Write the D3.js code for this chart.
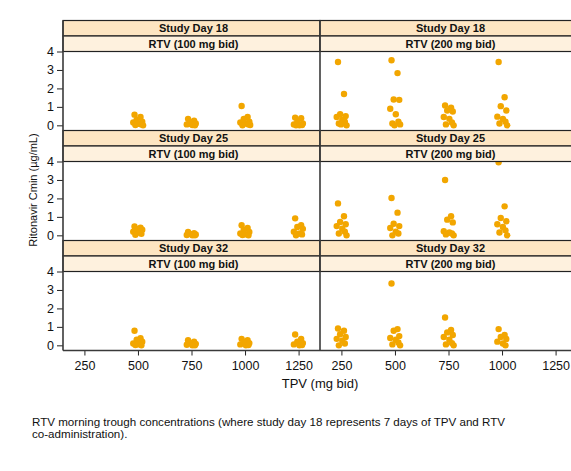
<!DOCTYPE html>
<html>
<head>
<meta charset="utf-8">
<script src="https://cdn.jsdelivr.net/npm/d3@7"></script>
<style>
  body { margin: 0; background: #fff; }
  text { font-family: "Liberation Sans", Arial, sans-serif; }
</style>
</head>
<body>
<svg id="chart"></svg>
<script>
const W = 571, H = 471;
const margin = { top: 20.5, left: 63 };
const panelW = 257;
const stripH = 15.5;
const panelH = 79;
const rowH = 2 * stripH + panelH;

const studyDays = ["Study Day 18", "Study Day 25", "Study Day 32"];
const regimens = ["RTV (100 mg bid)", "RTV (200 mg bid)"];
const doseTicks = [250, 500, 750, 1000, 1250];
const yTicks = [0, 1, 2, 3, 4];
// fixed jitter pattern (mg units) used to spread points at each dose
const jitter = [-16, 12, -6, 20, -22, 4, 16, -12, 24, -2];

// ritonavir Cmin (ug/mL) by TPV dose
const d18_100 = [
  [500, [0.58, 0.45, 0.3, 0.2, 0.15, 0.1, 0.05, 0.02, 0.0, 0.08]],
  [750, [0.35, 0.25, 0.15, 0.1, 0.05, 0.02, 0.0, 0.08]],
  [1000, [1.05, 0.45, 0.35, 0.2, 0.15, 0.1, 0.05, 0.0, 0.02]],
  [1250, [0.42, 0.38, 0.2, 0.1, 0.05, 0.0, 0.02, 0.0]]
];
const d18_200 = [
  [250, [3.43, 1.7, 0.6, 0.5, 0.45, 0.3, 0.2, 0.1, 0.0, 0.05]],
  [500, [3.53, 2.83, 1.4, 1.38, 0.9, 0.6, 0.2, 0.1, 0.05, 0.0]],
  [750, [1.08, 0.95, 0.8, 0.75, 0.45, 0.35, 0.15, 0.05, 0.0]],
  [1000, [3.43, 1.52, 1.04, 0.8, 0.47, 0.35, 0.2, 0.1, 0.0]]
];
const d25_100 = [
  [500, [0.48, 0.42, 0.35, 0.3, 0.2, 0.15, 0.08, 0.03]],
  [750, [0.18, 0.12, 0.08, 0.05, 0.02, 0.0, 0.0]],
  [1000, [0.55, 0.4, 0.3, 0.18, 0.1, 0.05, 0.0, 0.02]],
  [1250, [0.92, 0.55, 0.45, 0.35, 0.2, 0.1, 0.05, 0.0]]
];
const d25_200 = [
  [250, [1.73, 1.03, 0.72, 0.6, 0.5, 0.36, 0.2, 0.1, 0.0]],
  [500, [2.02, 1.23, 0.63, 0.5, 0.4, 0.2, 0.1, 0.0]],
  [750, [3.0, 1.03, 0.85, 0.7, 0.22, 0.15, 0.1, 0.05, 0.0]],
  [1000, [3.96, 1.57, 0.94, 0.76, 0.6, 0.45, 0.27, 0.15, 0.0]]
];
const d32_100 = [
  [500, [0.79, 0.38, 0.3, 0.2, 0.1, 0.05, 0.0, 0.02]],
  [750, [0.28, 0.2, 0.12, 0.08, 0.03, 0.0, 0.0]],
  [1000, [0.35, 0.28, 0.2, 0.12, 0.05, 0.0, 0.02]],
  [1250, [0.59, 0.35, 0.2, 0.12, 0.05, 0.0, 0.02]]
];
const d32_200 = [
  [250, [0.91, 0.79, 0.6, 0.45, 0.35, 0.25, 0.1, 0.0]],
  [500, [3.35, 0.88, 0.79, 0.5, 0.4, 0.3, 0.15, 0.05, 0.0]],
  [750, [1.51, 0.83, 0.7, 0.56, 0.45, 0.3, 0.12, 0.05, 0.0]],
  [1000, [0.88, 0.56, 0.45, 0.34, 0.2, 0.1, 0.0]]
];
const panels = [[d18_100, d18_200], [d25_100, d25_200], [d32_100, d32_200]];

const captionLines = [
  "RTV morning trough concentrations (where study day 18 represents 7 days of TPV and RTV",
  "co-administration)."
];

function init() {
  const svg = d3.select("#chart").attr("width", W).attr("height", H);

  const x = d3.scaleLinear().domain([150, 1350]).range([0, panelW]);
  const y = d3.scaleLinear().domain([-0.28, 4]).range([panelH, 0]);

  studyDays.forEach((day, r) => {
    const rowTop = margin.top + r * rowH;
    regimens.forEach((reg, c) => {
      const g = svg.append("g")
        .attr("transform", `translate(${margin.left + c * panelW}, ${rowTop})`);
      drawPanel(g, panels[r][c], x, y, `clip${r}${c}`);
      drawStrip(g, 0, day, "#fde5c2");
      drawStrip(g, stripH, reg, "#fef1de");
    });

    // y axis on the left
    const ya = svg.append("g")
      .attr("transform", `translate(${margin.left}, ${rowTop + 2 * stripH})`)
      .call(d3.axisLeft(y).tickValues(yTicks).tickFormat(d3.format("d")).tickSize(6).tickPadding(3));
    ya.select(".domain").remove();
    ya.selectAll(".tick line").attr("stroke", "#222");
    ya.selectAll(".tick text").attr("font-size", 12.5).attr("fill", "#111")
      .style("font-family", "Liberation Sans, Arial, sans-serif");
  });

  const gridBottom = margin.top + 3 * rowH;

  // bottom axes
  [0, 1].forEach((c) => {
    const xa = svg.append("g")
      .attr("transform", `translate(${margin.left + c * panelW}, ${gridBottom})`)
      .call(d3.axisBottom(x).tickValues(doseTicks).tickFormat(d3.format("d")).tickSize(5).tickPadding(6));
    xa.select(".domain").remove();
    xa.selectAll(".tick line").attr("stroke", "#222");
    xa.selectAll(".tick text").attr("font-size", 12.5).attr("fill", "#111")
      .style("font-family", "Liberation Sans, Arial, sans-serif");
  });

  // frame lines
  const frame = "#3a3a3a";
  svg.append("line")
    .attr("x1", margin.left).attr("x2", margin.left)
    .attr("y1", margin.top).attr("y2", gridBottom)
    .attr("stroke", frame).attr("stroke-width", 1.6);
  svg.append("line")
    .attr("x1", margin.left + panelW).attr("x2", margin.left + panelW)
    .attr("y1", margin.top).attr("y2", gridBottom)
    .attr("stroke", frame).attr("stroke-width", 1.6);
  svg.append("line")
    .attr("x1", margin.left).attr("x2", margin.left + 2 * panelW)
    .attr("y1", gridBottom).attr("y2", gridBottom)
    .attr("stroke", frame).attr("stroke-width", 1.6);

  // axis titles
  svg.append("text")
    .attr("x", margin.left + panelW).attr("y", 388)
    .attr("text-anchor", "middle").attr("font-size", 13).attr("fill", "#111")
    .text("TPV (mg bid)");
  svg.append("text")
    .attr("transform", `translate(37, 190) rotate(-90)`)
    .attr("text-anchor", "middle").attr("font-size", 11).attr("fill", "#111")
    .text("Ritonavir Cmin (µg/mL)");

  // caption
  svg.append("g").selectAll("text")
    .data(captionLines)
    .join("text")
    .attr("x", 32)
    .attr("y", (d, i) => 426 + i * 12)
    .attr("font-size", 11.6).attr("fill", "#111")
    .text((d) => d);
}

function drawStrip(g, top, label, fill) {
  g.append("rect")
    .attr("x", 0).attr("y", top)
    .attr("width", panelW).attr("height", stripH)
    .attr("fill", fill).attr("stroke", "#222").attr("stroke-width", 1.2);
  g.append("text")
    .attr("x", panelW / 2 + 2).attr("y", top + stripH / 2 + 4)
    .attr("text-anchor", "middle")
    .attr("font-size", 11).attr("font-weight", "bold").attr("fill", "#111")
    .text(label);
}

function drawPanel(g, groups, x, y, clipId) {
  const top = 2 * stripH;
  g.append("clipPath").attr("id", clipId)
    .append("rect").attr("x", 0).attr("y", 0).attr("width", panelW).attr("height", panelH);
  g.append("rect")
    .attr("x", 0).attr("y", top).attr("width", panelW).attr("height", panelH)
    .attr("fill", "#fff");

  const pts = [];
  groups.forEach(([dose, vals]) => {
    vals.forEach((v, i) => pts.push({ dose: dose + jitter[i % jitter.length], v: v }));
  });

  g.append("g")
    .attr("transform", `translate(0, ${top})`)
    .attr("clip-path", `url(#${clipId})`)
    .selectAll("circle")
    .data(pts)
    .join("circle")
    .attr("cx", (d) => x(d.dose))
    .attr("cy", (d) => y(d.v))
    .attr("r", 3.2)
    .attr("fill", "#f2a600");
}

init();
</script>
</body>
</html>
